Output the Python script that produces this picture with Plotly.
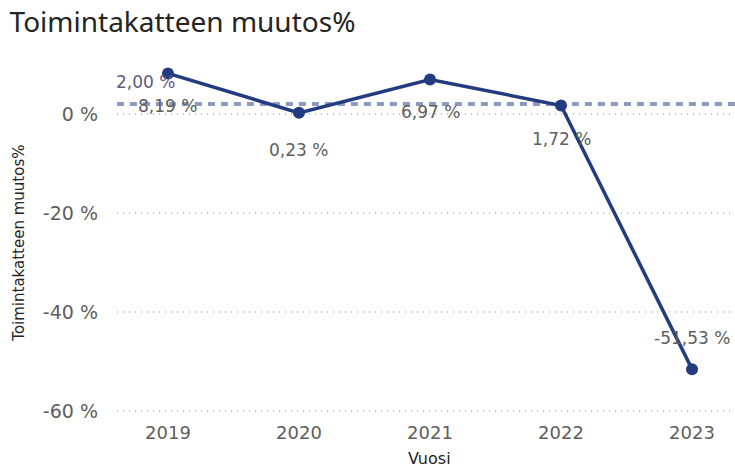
import plotly.graph_objects as go

years = [2019, 2020, 2021, 2022, 2023]
values = [8.19, 0.23, 6.97, 1.72, -51.53]
labels = ["8,19 %", "0,23 %", "6,97 %", "1,72 %", "-51,53 %"]
label_shift = [-33, -37, -33, -34, 31]
const_value = 2.00
const_label = "2,00 %"
y_ticks = [0, -20, -40, -60]
y_tick_text = ["0 %", "-20 %", "-40 %", "-60 %"]

FONT = "DejaVu Sans, sans-serif"
TFONT = "Noto Sans, sans-serif"
line_col = "#233b80"
grey = "#605e5c"

fig = go.Figure()
x_lo, x_hi = 2018.611, 2023.328
fig.add_trace(go.Scatter(
    x=[x_lo - 0.1, x_hi], y=[const_value, const_value], mode="lines",
    line=dict(color="#8c9ac4", width=4, dash="7px,6px"),
    hoverinfo="skip", showlegend=False, cliponaxis=False))
fig.add_trace(go.Scatter(
    x=years, y=values, mode="lines+markers",
    line=dict(color=line_col, width=3.5),
    marker=dict(color=line_col, size=12),
    showlegend=False))

for x, v, t, s in zip(years, values, labels, label_shift):
    fig.add_annotation(x=x, y=v, xref="x", yref="y", text=t, showarrow=False,
                       yshift=s, font=dict(family=FONT, size=17, color=grey))
fig.add_annotation(x=x_lo, y=const_value, xref="x", yref="y", text=const_label,
                   showarrow=False, xanchor="left", xshift=-3, yshift=22,
                   font=dict(family=FONT, size=17, color="#5f5a7e"))
fig.add_annotation(x=-0.160, y=0.49, xref="paper", yref="paper",
                   text="Toimintakatteen muutos%", showarrow=False, textangle=-90,
                   xanchor="center", yanchor="middle",
                   font=dict(family=FONT, size=15, color="#252423"))
fig.add_annotation(x=0.506, y=-0.108, xref="paper", yref="paper", text="Vuosi",
                   showarrow=False, yanchor="middle",
                   font=dict(family=FONT, size=16, color="#252423"))

fig.update_layout(
    width=735, height=470,
    margin=dict(l=117, r=0, t=60, b=50),
    paper_bgcolor="white", plot_bgcolor="white",
    title=dict(text="Toimintakatteen muutos%", x=0.013, xanchor="left",
               y=0.953, yanchor="middle",
               font=dict(family=TFONT, size=28, color="#252423")),
    xaxis=dict(range=[x_lo, x_hi], tickvals=years, ticktext=[str(y) for y in years],
               showgrid=False, zeroline=False, showline=False,
               tickfont=dict(family=FONT, size=18, color=grey), ticks=""),
    yaxis=dict(range=[-61.8, 10.9], tickvals=y_ticks, ticktext=y_tick_text,
               showgrid=True, gridcolor="#c8c6c4", griddash="1px,5px", gridwidth=1.5,
               zeroline=False, showline=False, ticks="", ticklabelstandoff=18,
               tickfont=dict(family=FONT, size=19, color=grey)),
)

fig.write_html("out.html")
